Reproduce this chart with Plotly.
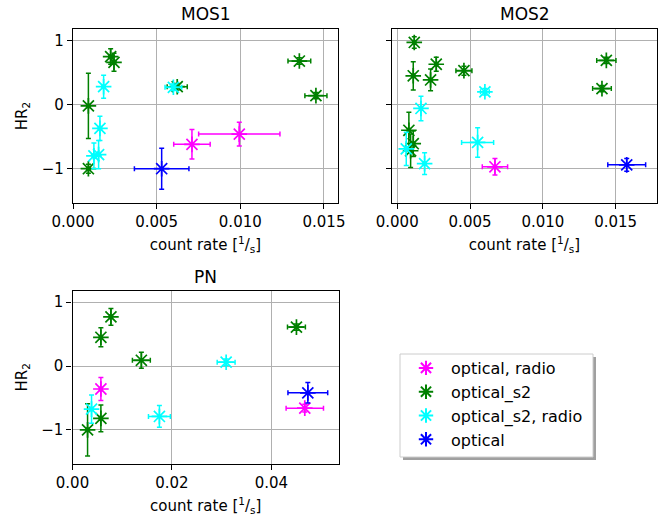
import plotly.graph_objects as go

# ---------------- data ----------------
categories = ["optical, radio", "optical_s2", "optical_s2, radio", "optical"]
colors = ["#ff00ff", "#008000", "#00ffff", "#0000ff"]

# MOS1
mos1_or_x = [0.00711, 0.00994]
mos1_or_y = [-0.62, -0.46]
mos1_or_xerr = [0.00109, 0.00243]
mos1_or_yerr = [0.23, 0.185]

mos1_s2_x = [0.00092, 0.00092, 0.00225, 0.00245, 0.00623, 0.01353, 0.01452]
mos1_s2_y = [-0.02, -1.0, 0.75, 0.66, 0.28, 0.68, 0.14]
mos1_s2_xerr = [0.0001, 0.0001, 0.0001, 0.0001, 0.0006, 0.00068, 0.00066]
mos1_s2_yerr = [0.51, 0.07, 0.12, 0.14, 0.05, 0.05, 0.05]

mos1_s2r_x = [0.00183, 0.00161, 0.00125, 0.00153, 0.0060]
mos1_s2r_y = [0.28, -0.37, -0.80, -0.78, 0.27]
mos1_s2r_xerr = [0.0001, 0.0001, 0.0001, 0.0001, 0.0005]
mos1_s2r_yerr = [0.18, 0.19, 0.2, 0.22, 0.05]

mos1_o_x = [0.0053]
mos1_o_y = [-1.0]
mos1_o_xerr = [0.00163]
mos1_o_yerr = [0.32]

# MOS2
mos2_or_x = [0.00671]
mos2_or_y = [-0.97]
mos2_or_xerr = [0.00087]
mos2_or_yerr = [0.13]

mos2_s2_x = [0.00117, 0.0011, 0.00268, 0.00229, 0.00458, 0.01436, 0.01406, 0.0008, 0.0011, 0.00092]
mos2_s2_y = [0.97, 0.45, 0.63, 0.385, 0.53, 0.69, 0.25, -0.40, -0.61, -0.72]
mos2_s2_xerr = [0.0001, 0.0001, 0.0001, 0.0001, 0.00055, 0.00066, 0.00064, 0.0001, 0.0001, 0.0001]
mos2_s2_yerr = [0.09, 0.22, 0.11, 0.17, 0.07, 0.05, 0.05, 0.28, 0.2, 0.26]

mos2_s2r_x = [0.00602, 0.00163, 0.00062, 0.00188, 0.00552]
mos2_s2r_y = [0.20, -0.06, -0.69, -0.92, -0.59]
mos2_s2r_xerr = [0.0003, 0.0001, 0.0001, 0.0001, 0.0011]
mos2_s2r_yerr = [0.05, 0.19, 0.26, 0.17, 0.23]

mos2_o_x = [0.01576]
mos2_o_y = [-0.94]
mos2_o_xerr = [0.0013]
mos2_o_yerr = [0.1]

# PN
pn_or_x = [0.00571, 0.04672]
pn_or_y = [-0.36, -0.66]
pn_or_xerr = [0.0003, 0.00376]
pn_or_yerr = [0.18, 0.06]

pn_s2_x = [0.00773, 0.00571, 0.01385, 0.04504, 0.00303, 0.00571]
pn_s2_y = [0.77, 0.45, 0.09, 0.61, -1.0, -0.82]
pn_s2_xerr = [0.0003, 0.0003, 0.0018, 0.0018, 0.0003, 0.0003]
pn_s2_yerr = [0.13, 0.15, 0.125, 0.05, 0.41, 0.21]

pn_s2r_x = [0.0309, 0.01748, 0.00383]
pn_s2r_y = [0.06, -0.79, -0.675]
pn_s2r_xerr = [0.0018, 0.0022, 0.0003]
pn_s2r_yerr = [0.05, 0.17, 0.22]

pn_o_x = [0.04733]
pn_o_y = [-0.42]
pn_o_xerr = [0.004]
pn_o_yerr = [0.16]

panels = [
    ("MOS1", "x", "y", [
        (mos1_or_x, mos1_or_y, mos1_or_xerr, mos1_or_yerr),
        (mos1_s2_x, mos1_s2_y, mos1_s2_xerr, mos1_s2_yerr),
        (mos1_s2r_x, mos1_s2r_y, mos1_s2r_xerr, mos1_s2r_yerr),
        (mos1_o_x, mos1_o_y, mos1_o_xerr, mos1_o_yerr),
    ]),
    ("MOS2", "x2", "y2", [
        (mos2_or_x, mos2_or_y, mos2_or_xerr, mos2_or_yerr),
        (mos2_s2_x, mos2_s2_y, mos2_s2_xerr, mos2_s2_yerr),
        (mos2_s2r_x, mos2_s2r_y, mos2_s2r_xerr, mos2_s2r_yerr),
        (mos2_o_x, mos2_o_y, mos2_o_xerr, mos2_o_yerr),
    ]),
    ("PN", "x3", "y3", [
        (pn_or_x, pn_or_y, pn_or_xerr, pn_or_yerr),
        (pn_s2_x, pn_s2_y, pn_s2_xerr, pn_s2_yerr),
        (pn_s2r_x, pn_s2r_y, pn_s2r_xerr, pn_s2r_yerr),
        (pn_o_x, pn_o_y, pn_o_xerr, pn_o_yerr),
    ]),
]

fig = go.Figure()
for pi, (name, xa, ya, series) in enumerate(panels):
    for ci, (xs, ys, xe, ye) in enumerate(series):
        c = colors[ci]
        fig.add_trace(go.Scatter(
            x=xs, y=ys, mode="markers", xaxis=xa, yaxis=ya,
            name=categories[ci], legendgroup=categories[ci],
            showlegend=(pi == 0),
            marker=dict(symbol="asterisk-open", size=13, color=c,
                        line=dict(color=c, width=1.7)),
            error_x=dict(type="data", array=xe, color=c, thickness=1.5, width=2.5),
            error_y=dict(type="data", array=ye, color=c, thickness=1.5, width=2.5),
        ))

W, H = 658, 522


def px(x):
    return x / W


def py(y):
    return 1 - y / H


font = "DejaVu Sans"
axis_common = dict(showline=True, linecolor="black", linewidth=1.2, mirror=True,
                   ticks="outside", ticklen=5, tickcolor="black", automargin=False,
                   showgrid=True, gridcolor="#b0b0b0", gridwidth=1,
                   zeroline=False, tickfont=dict(size=15, color="black", family=font))

yr = [-1.535, 1.18]
xlabel = "count rate [<sup>1</sup>/<sub>s</sub>]"
fig.update_layout(
    width=W, height=H, margin=dict(l=0, r=0, t=0, b=0, autoexpand=False),
    plot_bgcolor="white", paper_bgcolor="white",
    font=dict(family=font, size=15, color="black"),
    xaxis=dict(domain=[px(73), px(338)], range=[0, 0.01584], anchor="y",
               tickvals=[0, 0.005, 0.01, 0.015], ticktext=["0.000", "0.005", "0.010", "0.015"],
               title=dict(text=xlabel, standoff=9, font=dict(size=15)), **axis_common),
    yaxis=dict(domain=[py(203), py(29)], range=yr, anchor="x",
               tickvals=[-1, 0, 1], ticktext=["\u22121", "0", "1"],
               title=dict(text="HR<sub>2</sub>", standoff=10, font=dict(size=15)), **axis_common),
    xaxis2=dict(domain=[px(391.7), px(657.3)], range=[-0.00038, 0.01786], anchor="y2",
                tickvals=[0, 0.005, 0.01, 0.015], ticktext=["0.000", "0.005", "0.010", "0.015"],
                title=dict(text=xlabel, standoff=9, font=dict(size=15)), **axis_common),
    yaxis2=dict(domain=[py(203), py(29)], range=yr, anchor="x2",
                tickvals=[-1, 0, 1], showticklabels=False, **axis_common),
    xaxis3=dict(domain=[px(72.5), px(339)], range=[0, 0.0536], anchor="y3",
                tickvals=[0, 0.02, 0.04], ticktext=["0.00", "0.02", "0.04"],
                title=dict(text=xlabel, standoff=9, font=dict(size=15)), **axis_common),
    yaxis3=dict(domain=[py(464), py(290.7)], range=yr, anchor="x3",
                tickvals=[-1, 0, 1], ticktext=["\u22121", "0", "1"],
                title=dict(text="HR<sub>2</sub>", standoff=10, font=dict(size=15)), **axis_common),
    legend=dict(x=px(401), y=py(351), xanchor="left", yanchor="top",
                bgcolor="rgba(0,0,0,0)", borderwidth=0,
                font=dict(size=16, family=font), itemsizing="constant",
                itemwidth=40, traceorder="grouped", tracegroupgap=0),
)

# titles
for txt, xc, yc in [("MOS1", 205.5, 14), ("MOS2", 524.5, 14), ("PN", 205.5, 277)]:
    fig.add_annotation(text=txt, x=px(xc), y=py(yc), xref="paper", yref="paper",
                       showarrow=False, font=dict(size=17, family=font, color="black"),
                       xanchor="center", yanchor="middle")

# legend frame with shadow
fig.add_shape(type="rect", xref="paper", yref="paper", layer="below",
              x0=px(403), x1=px(596), y0=py(460), y1=py(357),
              fillcolor="#a0a0a0", line=dict(width=0))
fig.add_shape(type="rect", xref="paper", yref="paper", layer="below",
              x0=px(400), x1=px(593), y0=py(457), y1=py(354),
              fillcolor="white", line=dict(color="#cccccc", width=1))

# remove the default 8px page margin so the figure fills the window
fig.write_html("out.html", config={"displayModeBar": False},
               post_script="document.body.style.margin='0';")
